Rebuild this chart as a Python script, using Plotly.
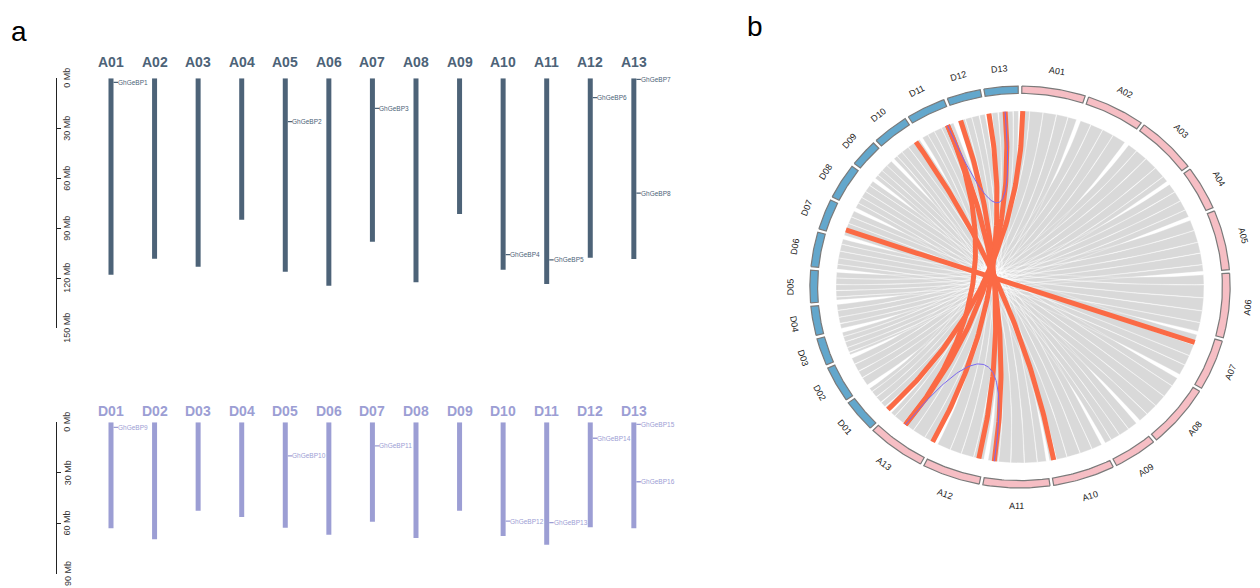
import numpy as np
import plotly.graph_objects as go

# ---------------- data ----------------
a_chroms = ["A01", "A02", "A03", "A04", "A05", "A06", "A07", "A08", "A09", "A10", "A11", "A12", "A13"]
a_lengths = [117.8, 108.2, 113.0, 84.8, 116.0, 124.4, 98.0, 122.4, 81.4, 114.8, 123.4, 107.6, 108.4]
d_chroms = ["D01", "D02", "D03", "D04", "D05", "D06", "D07", "D08", "D09", "D10", "D11", "D12", "D13"]
d_lengths = [63.0, 69.6, 52.6, 56.4, 62.7, 66.9, 59.2, 68.9, 52.6, 67.7, 72.9, 62.5, 63.1]

gene_names = ["GhGeBP1", "GhGeBP2", "GhGeBP3", "GhGeBP4", "GhGeBP5", "GhGeBP6", "GhGeBP7", "GhGeBP8",
              "GhGeBP9", "GhGeBP10", "GhGeBP11", "GhGeBP12", "GhGeBP13", "GhGeBP14", "GhGeBP15", "GhGeBP16"]
gene_chroms = ["A01", "A05", "A07", "A10", "A11", "A12", "A13", "A13",
               "D01", "D05", "D07", "D10", "D11", "D12", "D13", "D13"]
gene_pos = [2.4, 26.0, 18.0, 105.8, 109.0, 11.6, 0.6, 68.9,
            3.0, 20.0, 14.0, 58.8, 59.7, 9.5, 1.2, 35.4]

a_tick_vals = [0, 30, 60, 90, 120, 150]
a_tick_text = ["0 Mb", "30 Mb", "60 Mb", "90 Mb", "120 Mb", "150 Mb"]
d_tick_vals = [0, 30, 60, 90]
d_tick_text = ["0 Mb", "30 Mb", "60 Mb", "90 Mb"]

# segmental duplication gene pairs (circos, red) and intra-subgenome pairs (purple)
red_pairs = [("GhGeBP1", "GhGeBP9"), ("GhGeBP3", "GhGeBP11"), ("GhGeBP4", "GhGeBP12"),
             ("GhGeBP5", "GhGeBP13"), ("GhGeBP6", "GhGeBP14"), ("GhGeBP7", "GhGeBP15"),
             ("GhGeBP8", "GhGeBP16"), ("GhGeBP8", "GhGeBP13")]
purple_pairs = [("GhGeBP16", "GhGeBP13"), ("GhGeBP8", "GhGeBP5")]

# syntenic blocks between homeologous A/D chromosome pairs (fractions of chromosome length)
syn_blocks = {
    1: [(0.00, 0.14), (0.145, 0.38), (0.385, 0.62), (0.628, 0.83), (0.836, 0.99)],
    2: [(0.01, 0.22), (0.226, 0.47), (0.476, 0.70), (0.706, 0.97)],
    3: [(0.00, 0.18), (0.186, 0.41), (0.418, 0.66), (0.666, 0.88), (0.886, 1.00)],
    4: [(0.02, 0.25), (0.258, 0.52), (0.527, 0.78), (0.787, 0.98)],
    5: [(0.00, 0.20), (0.206, 0.43), (0.437, 0.64), (0.646, 0.86), (0.866, 0.99)],
    6: [(0.00, 0.17), (0.176, 0.40), (0.406, 0.63), (0.636, 0.84), (0.846, 1.00)],
    7: [(0.01, 0.24), (0.247, 0.50), (0.507, 0.73), (0.737, 0.97)],
    8: [(0.00, 0.16), (0.166, 0.39), (0.396, 0.61), (0.616, 0.82), (0.826, 0.99)],
    9: [(0.02, 0.27), (0.277, 0.55), (0.557, 0.80), (0.807, 0.98)],
    10: [(0.00, 0.19), (0.196, 0.42), (0.427, 0.67), (0.676, 0.87), (0.876, 1.00)],
    11: [(0.00, 0.15), (0.156, 0.37), (0.377, 0.60), (0.606, 0.81), (0.816, 0.99)],
    12: [(0.01, 0.21), (0.216, 0.46), (0.467, 0.69), (0.696, 0.96)],
    13: [(0.00, 0.18), (0.186, 0.44), (0.447, 0.68), (0.686, 0.90), (0.906, 1.00)],
}

# ---------------- style ----------------
W, H = 1260, 588
FONT = "Arial, 'Liberation Sans', sans-serif"
A_COL = "#4d6378"
D_COL = "#9c9ed4"
PINK = "#f6bec4"
BLUE = "#63a7cc"
RED = "#fb6a45"
PURPLE = "#7b68ee"
GRAY = "#d9d9d9"


def py(p):
    return 1 - p / H


fig = go.Figure()

# ---------------- panel a ----------------
step = 43.57
first_px = 111.0
x_lo_px, x_hi_px = 57.0, 740.0
x_range = [1 - (first_px - x_lo_px) / step, 1 + (x_hi_px - first_px) / step]
bar_w = 5.0 / step
tick_a, tick_b = 2.5 / step, 7.0 / step

groups = [
    (a_chroms, a_lengths, A_COL, "x", "y"),
    (d_chroms, d_lengths, D_COL, "x2", "y2"),
]
annotations = []
for chroms, lengths, col, xa, ya in groups:
    idx = list(range(1, len(chroms) + 1))
    fig.add_trace(go.Bar(x=idx, y=lengths, base=0, width=bar_w, marker=dict(color=col, line_width=0),
                         xaxis=xa, yaxis=ya, hoverinfo="skip", showlegend=False))
    gx, gy = [], []
    for n, c, p in zip(gene_names, gene_chroms, gene_pos):
        if c in chroms:
            i = chroms.index(c) + 1
            gx += [i + tick_a, i + tick_b, None]
            gy += [p, p, None]
            annotations.append(dict(x=i + tick_b, y=p, xref=xa, yref=ya, text=n, showarrow=False,
                                    xanchor="left", yanchor="middle", xshift=-1, borderpad=0,
                                    font=dict(family=FONT, size=6.5, color=col)))
    fig.add_trace(go.Scatter(x=gx, y=gy, mode="lines", line=dict(color=col, width=1.3),
                             xaxis=xa, yaxis=ya, hoverinfo="skip", showlegend=False))
    label_y = 62.3 if xa == "x" else 410.5
    for i, c in zip(idx, chroms):
        annotations.append(dict(x=i, y=py(label_y), xref=xa, yref="paper", text="<b>%s</b>" % c,
                                showarrow=False, xanchor="center", yanchor="middle",
                                font=dict(family=FONT, size=14, color=col)))

for vals, texts, ya in [(a_tick_vals, a_tick_text, "y"), (d_tick_vals, d_tick_text, "y2")]:
    for v, t in zip(vals, texts):
        annotations.append(dict(x=67.5 / W, y=v, xref="paper", yref=ya, text=t, textangle=-90,
                                showarrow=False, xanchor="center", yanchor="middle",
                                font=dict(family=FONT, size=9, color="#333333")))

# ---------------- panel b (circos) ----------------
CX, CY, UX, UY = 1020.0, 287.0, 184.0, 176.0
gap = 1.0
all_chroms = a_chroms + d_chroms
all_lengths = a_lengths + d_lengths
scale = (360.0 - gap * len(all_chroms)) / sum(all_lengths)
starts = {}
th = gap / 2
for c, L in zip(all_chroms, all_lengths):
    starts[c] = th
    th += L * scale + gap
clen = dict(zip(all_chroms, all_lengths))


def bearing(c, pos):
    return starts[c] + pos * scale


def pt(r, b):
    t = np.radians(b)
    return r * np.sin(t), r * np.cos(t)


def arc(r, b0, b1, n=30):
    bs = np.linspace(b0, b1, n)
    return list(r * np.sin(np.radians(bs))), list(r * np.cos(np.radians(bs)))


def bez(b0, b1, n=40):
    x0, y0 = pt(1.0, b0)
    x1, y1 = pt(1.0, b1)
    t = np.linspace(0, 1, n)
    return list((1 - t) ** 2 * x0 + t ** 2 * x1), list((1 - t) ** 2 * y0 + t ** 2 * y1)


# gray synteny ribbons (untwisted: A block end joins D block start)
rx, ry = [], []
for k, blocks in syn_blocks.items():
    ca, cd = a_chroms[k - 1], d_chroms[k - 1]
    for f1, f2 in blocks:
        a1, a2 = bearing(ca, f1 * clen[ca]), bearing(ca, f2 * clen[ca])
        d1, d2 = bearing(cd, (1 - f2) * clen[cd]), bearing(cd, (1 - f1) * clen[cd])
        xs, ys = arc(1.0, a1, a2)
        bx, by = bez(a2, d1)
        xs += bx; ys += by
        ax_, ay_ = arc(1.0, d1, d2)
        xs += ax_; ys += ay_
        bx, by = bez(d2, a1)
        xs += bx; ys += by
        rx += xs + [None]
        ry += ys + [None]
fig.add_trace(go.Scatter(x=rx, y=ry, mode="lines", fill="toself", fillcolor=GRAY,
                         line=dict(color="white", width=0.35), xaxis="x3", yaxis="y3",
                         hoverinfo="skip", showlegend=False))

gene_b = {n: bearing(c, p) for n, c, p in zip(gene_names, gene_chroms, gene_pos)}
for pairs, col, wdt in [(red_pairs, RED, 5.0), (purple_pairs, PURPLE, 1.0)]:
    lx, ly = [], []
    for g1, g2 in pairs:
        bx, by = bez(gene_b[g1], gene_b[g2], 80)
        lx += bx + [None]
        ly += by + [None]
    fig.add_trace(go.Scatter(x=lx, y=ly, mode="lines", line=dict(color=col, width=wdt),
                             xaxis="x3", yaxis="y3", hoverinfo="skip", showlegend=False))

# ideogram ring
r_in, r_out, r_lab = 1.100, 1.142, 1.245
for chroms, col in [(a_chroms, PINK), (d_chroms, BLUE)]:
    sx, sy = [], []
    for c in chroms:
        b0, b1 = starts[c], starts[c] + clen[c] * scale
        ox, oy = arc(r_out, b0, b1)
        ix, iy = arc(r_in, b1, b0)
        sx += ox + ix + [ox[0], None]
        sy += oy + iy + [oy[0], None]
        mid = (b0 + b1) / 2
        ang = mid - 180 if 90 <= mid < 270 else (mid - 360 if mid >= 270 else mid)
        lx_, ly_ = pt(r_lab, mid)
        annotations.append(dict(x=lx_, y=ly_, xref="x3", yref="y3", text=c, textangle=ang,
                                showarrow=False, xanchor="center", yanchor="middle",
                                font=dict(family=FONT, size=9, color="#222222")))
    fig.add_trace(go.Scatter(x=sx, y=sy, mode="lines", fill="toself", fillcolor=col,
                             line=dict(color="#7a7a7a", width=1.2), xaxis="x3", yaxis="y3",
                             hoverinfo="skip", showlegend=False))

# panel letters
annotations.append(dict(x=9 / W, y=py(31), xref="paper", yref="paper", text="a", showarrow=False,
                        xanchor="left", yanchor="middle", font=dict(family=FONT, size=28, color="black")))
annotations.append(dict(x=745 / W, y=py(27), xref="paper", yref="paper", text="b", showarrow=False,
                        xanchor="left", yanchor="middle", font=dict(family=FONT, size=28, color="black")))

yax_common = dict(showline=True, linecolor="#222222", linewidth=1, ticks="inside", ticklen=4,
                  tickwidth=1, tickcolor="#222222", showticklabels=False, showgrid=False, zeroline=False)

fig.update_layout(
    width=W, height=H, margin=dict(l=0, r=0, t=0, b=0),
    paper_bgcolor="white", plot_bgcolor="rgba(0,0,0,0)",
    showlegend=False, hovermode=False,
    annotations=annotations,
    xaxis=dict(domain=[x_lo_px / W, x_hi_px / W], range=x_range, visible=False, anchor="y"),
    yaxis=dict(domain=[py(328.3), py(78.3)], range=[150, 0], anchor="x", tickvals=a_tick_vals, **yax_common),
    xaxis2=dict(domain=[x_lo_px / W, x_hi_px / W], range=x_range, visible=False, anchor="y2"),
    yaxis2=dict(domain=[py(573.5), py(422.3)], range=[90, 0], anchor="x2", tickvals=d_tick_vals, **yax_common),
    xaxis3=dict(domain=[760 / W, 1], range=[(760 - CX) / UX, (W - CX) / UX], visible=False, anchor="y3"),
    yaxis3=dict(domain=[0, 1], range=[(CY - H) / UY, CY / UY], visible=False, anchor="x3"),
)

fig.write_html("out.html", config={"displayModeBar": False},
               post_script="document.body.style.margin='0';document.body.style.overflow='hidden';")
